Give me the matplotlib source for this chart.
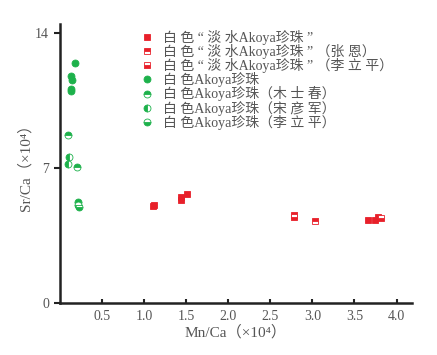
import matplotlib
matplotlib.use("Agg")
import matplotlib.pyplot as plt

plt.rcParams["font.family"] = ["Liberation Serif", "Noto Sans CJK SC"]

TEXT_COLOR = "#555555"
RED = "#e8202a"
GREEN = "#1db14b"

# 白色“淡水Akoya珍珠”
fw_x = [1.10, 1.12, 1.43, 1.44, 1.51, 3.66, 3.74, 3.78]
fw_y = [5.05, 5.10, 5.34, 5.51, 5.64, 4.30, 4.30, 4.48]
# （张恩）
fw_zh_x = [2.78, 3.03]
fw_zh_y = [4.56, 4.24]
# （李立平）
fw_li_x = [2.78, 3.82]
fw_li_y = [4.44, 4.39]

# 白色Akoya珍珠
ak_x = [0.17, 0.13, 0.137, 0.128, 0.13]
ak_y = [12.43, 11.77, 11.55, 11.10, 11.00]
# （木士春）
ak_mu_x = [0.089, 0.204, 0.212]
ak_mu_y = [8.73, 7.04, 5.25]
# （宋彦军）
ak_song_x = [0.101, 0.093]
ak_song_y = [7.56, 7.21]
# （李立平）
ak_li_x = [0.22, 0.215]
ak_li_y = [5.00, 5.10]

series = [
    (fw_x, fw_y, "s", "full", RED, "白 色 “ 淡 水Akoya珍珠 ”"),
    (fw_zh_x, fw_zh_y, "s", "top", RED, "白 色 “ 淡 水Akoya珍珠 ” （张 恩）"),
    (fw_li_x, fw_li_y, "s", "bottom", RED, "白 色 “ 淡 水Akoya珍珠 ” （李 立 平）"),
    (ak_x, ak_y, "o", "full", GREEN, "白 色Akoya珍珠"),
    (ak_mu_x, ak_mu_y, "o", "top", GREEN, "白 色Akoya珍珠（木 士 春）"),
    (ak_song_x, ak_song_y, "o", "left", GREEN, "白 色Akoya珍珠（宋 彦 军）"),
    (ak_li_x, ak_li_y, "o", "bottom", GREEN, "白 色Akoya珍珠（李 立 平）"),
]

fig = plt.figure(figsize=(4.37, 3.55), dpi=100)
ax = fig.add_axes([0.138, 0.146, 0.804, 0.786])

for xs, ys, marker, fill, color, label in series:
    ax.plot(xs, ys, linestyle="none", marker=marker, fillstyle=fill,
            markersize=5, markerfacecolor=color, markerfacecoloralt="white",
            markeredgecolor=color, markeredgewidth=0.6, label=label)

ax.set_xlim(0, 4.18)
ax.set_ylim(0, 14.45)
ax.set_xticks([0.5, 1.0, 1.5, 2.0, 2.5, 3.0, 3.5, 4.0])
ax.set_xticklabels(["0.5", "1.0", "1.5", "2.0", "2.5", "3.0", "3.5", "4.0"])
ax.set_yticks([0, 7, 14])

for side in ["top", "right"]:
    ax.spines[side].set_visible(False)
for side in ["left", "bottom"]:
    ax.spines[side].set_linewidth(1.8)
    ax.spines[side].set_color("#222222")

ax.tick_params(axis="x", direction="in", length=3, width=1.5, colors="#222222",
               labelcolor=TEXT_COLOR, labelsize=10, pad=5)
ax.tick_params(axis="y", direction="out", length=4, width=1.5, colors="#222222",
               labelcolor=TEXT_COLOR, labelsize=10, pad=4)

ax.set_xlabel("Mn/Ca（×10⁴）", color=TEXT_COLOR, fontsize=11, labelpad=1)
ax.set_ylabel("Sr/Ca（×10⁴）", color=TEXT_COLOR, fontsize=11, labelpad=2)

leg = ax.legend(loc="upper left", bbox_to_anchor=(0.22, 1.0), frameon=False,
                fontsize=10, handlelength=0.6, handletextpad=0.8,
                labelspacing=-0.06, borderaxespad=0)
for t in leg.get_texts():
    t.set_color(TEXT_COLOR)

fig.savefig("out.png", dpi=100)
